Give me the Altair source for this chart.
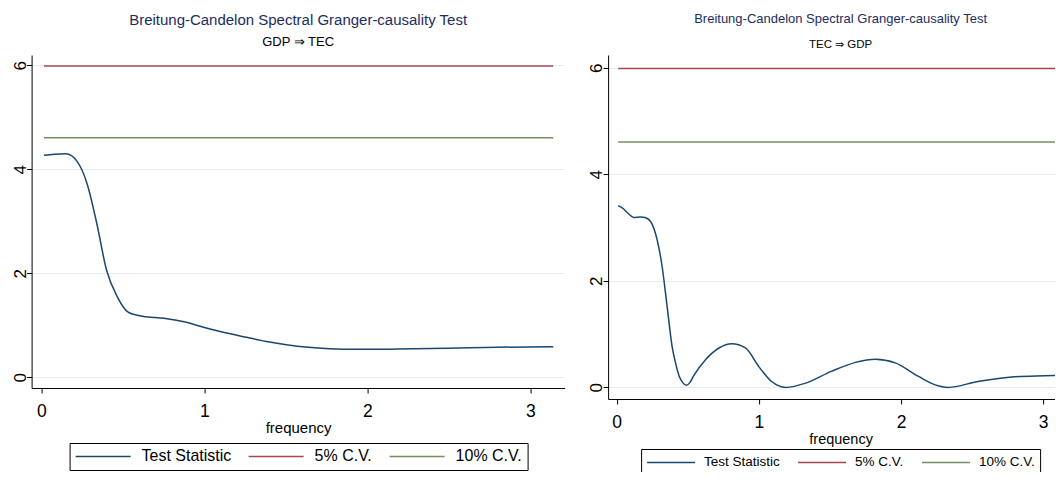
import altair as alt
import pandas as pd

# ---------------- data ----------------
series_names = ["Test Statistic", "5% C.V.", "10% C.V."]
series_colors = ["#1a476f", "#a4484e", "#74905a"]
cv5 = 5.99
cv10 = 4.61

# GDP => TEC
left_freq = [0.016, 0.08, 0.15, 0.22, 0.28, 0.34, 0.40, 0.466, 0.53, 0.61, 0.70,
             0.77, 0.875, 1.0, 1.06, 1.26, 1.40, 1.57, 1.72, 1.88, 2.05, 2.18,
             2.49, 2.80, 3.14]
left_stat = [4.27, 4.29, 4.30, 4.15, 3.73, 2.96, 2.06, 1.55, 1.26, 1.18, 1.15,
             1.13, 1.07, 0.96, 0.91, 0.77, 0.68, 0.60, 0.56, 0.54, 0.54, 0.545,
             0.56, 0.58, 0.59]

# TEC => GDP
right_freq = [0.011, 0.04, 0.08, 0.12, 0.17, 0.20, 0.24, 0.285, 0.32, 0.355, 0.39,
              0.415, 0.44, 0.465, 0.49, 0.515, 0.54, 0.625, 0.72, 0.81, 0.906, 1.0,
              1.09, 1.19, 1.33, 1.51, 1.68, 1.82, 1.96, 2.12, 2.26, 2.33, 2.54,
              2.78, 3.01, 3.14]
right_stat = [3.41, 3.37, 3.27, 3.19, 3.20, 3.19, 3.11, 2.77, 2.27, 1.52, 0.77,
              0.45, 0.21, 0.09, 0.04, 0.09, 0.21, 0.52, 0.74, 0.82, 0.74, 0.39,
              0.11, 0.0, 0.08, 0.30, 0.47, 0.53, 0.46, 0.21, 0.03, 0.0, 0.11,
              0.195, 0.22, 0.23]

x_ticks = [0, 1, 2, 3]
y_ticks = [0, 2, 4, 6]

title_text = "Breitung-Candelon Spectral Granger-causality Test"
left_sub = "GDP \u21d2 TEC"
right_sub = "TEC \u21d2 GDP"

FONT = "Liberation Sans Narrow, Arial Narrow, Liberation Sans, Arial, sans-serif"


def make_df(freq, stat):
    rows = []
    for f, v in zip(freq, stat):
        rows.append({"freq": f, "value": v, "series": series_names[0], "ord": 0})
    for f in (freq[0], freq[-1]):
        rows.append({"freq": f, "value": cv5, "series": series_names[1], "ord": 1})
        rows.append({"freq": f, "value": cv10, "series": series_names[2], "ord": 2})
    return pd.DataFrame(rows)


def panel(freq, stat, subtitle, width, height, ydom, legend_x, legend_y,
          t_size, s_size, t_offset, sub_pad, xt_size, xt_pad,
          leg_font, sym_size, leg_off, col_pad):
    df = make_df(freq, stat)
    return alt.Chart(df).mark_line(interpolate="monotone", strokeWidth=1.5, clip=True).encode(
        x=alt.X("freq:Q",
                scale=alt.Scale(domain=[-0.06, 3.21], nice=False, zero=False),
                axis=alt.Axis(values=x_ticks, title="frequency", grid=False,
                              labelFont=FONT, labelFontSize=17.5, labelColor="black",
                              titleFont=FONT, titleFontSize=xt_size, titleFontWeight="normal",
                              titleColor="black", domainColor="black", tickColor="black",
                              tickSize=5, labelPadding=10, titlePadding=xt_pad)),
        y=alt.Y("value:Q",
                scale=alt.Scale(domain=ydom, nice=False, zero=False),
                axis=alt.Axis(values=y_ticks, title=None, grid=True, gridColor="#e6eef0",
                              labelAngle=270, labelAlign="center", labelBaseline="alphabetic",
                              labelFont=FONT, labelFontSize=17, labelColor="black",
                              domainColor="black", tickColor="black", tickSize=5,
                              labelPadding=1.5)),
        color=alt.Color("series:N",
                        scale=alt.Scale(domain=series_names, range=series_colors),
                        title=None,
                        legend=alt.Legend(orient="none", legendX=legend_x, legendY=legend_y,
                                          direction="horizontal", columns=3,
                                          symbolType="stroke", symbolSize=sym_size,
                                          clipHeight=17,
                                          symbolStrokeWidth=1.5,
                                          labelFont=FONT, labelFontSize=leg_font,
                                          labelColor="black", labelOffset=leg_off,
                                          columnPadding=col_pad, padding=5,
                                          strokeColor="black", fillColor="white")),
        detail="series:N",
        order="ord:Q",
    ).properties(
        width=width, height=height,
        title=alt.TitleParams(text=title_text, subtitle=subtitle, anchor="middle",
                              font=FONT, fontSize=t_size, fontWeight="normal",
                              color="#1c2d5e", subtitleFont=FONT, subtitleFontSize=s_size,
                              subtitleColor="black", subtitlePadding=sub_pad,
                              offset=t_offset),
    )


left = panel(left_freq, left_stat, left_sub, 533, 333, [-0.204, 6.2], 38, 388,
             15, 13, 6.5, 8, 15, 0, 16, 3025, 10, 16)
right = panel(right_freq, right_stat, right_sub, 465, 344, [-0.218, 6.242], 33, 394,
              13, 11.5, 4.5, 13, 14.5, 1, 13.5, 2304, 8, 17)

chart = alt.hconcat(left, right, spacing=22.5).resolve_scale(
    x="independent", y="independent", color="independent"
).resolve_legend(color="independent").properties(
    padding={"left": 2.6, "top": 4, "right": -19, "bottom": -5},
    background="white",
).configure_view(stroke=None)

chart.save("out.html", embed_options={"renderer": "svg", "actions": False})
